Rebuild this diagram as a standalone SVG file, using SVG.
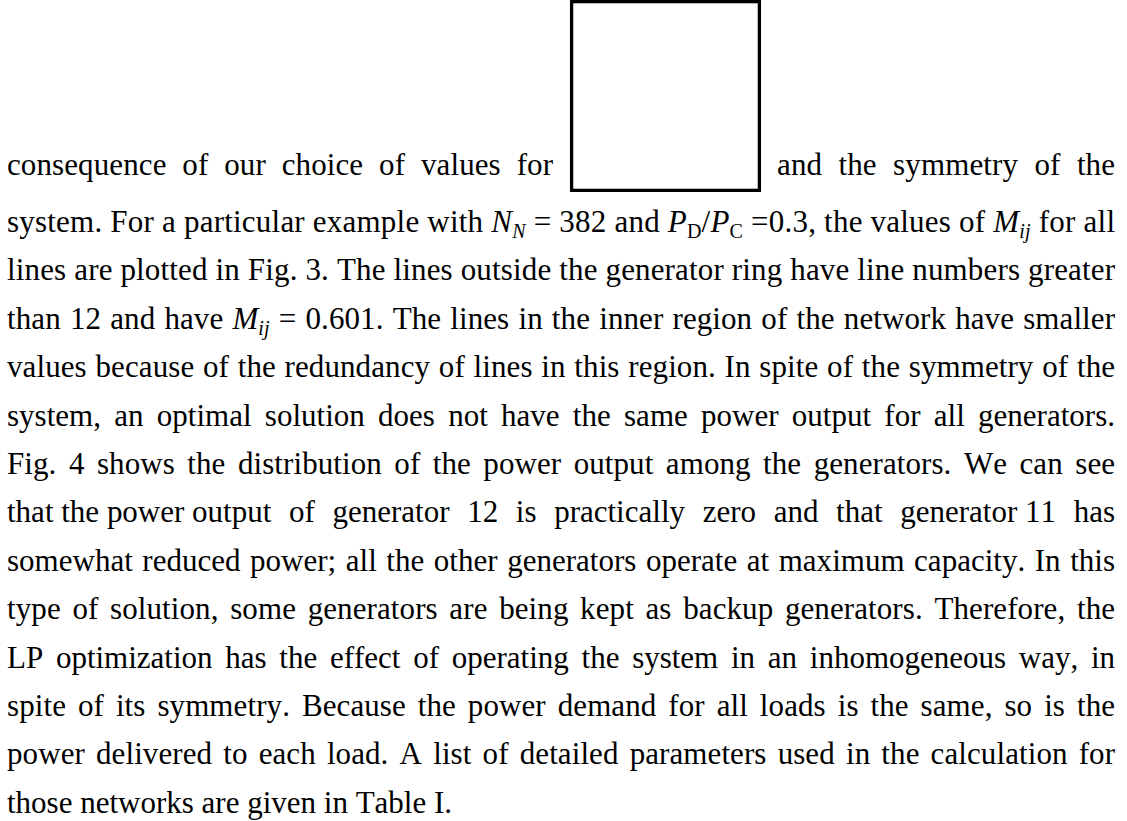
<svg xmlns="http://www.w3.org/2000/svg" width="1127" height="821" viewBox="0 0 1127 821">
  <style>
    text { font-family: "Liberation Serif", "Times New Roman", serif; font-size: 31px; fill: #000; font-kerning: none; }
    .i { font-style: italic; }
    .s { font-size: 20px; }
  </style>
  <rect width="1127" height="821" fill="#fff"/>

  <!-- empty inline frame in the first line -->
  <g id="frame">
    <rect x="571.6" y="1.65" width="187.8" height="188.7" fill="#fff" stroke="#000" stroke-width="3.3"/>
  </g>

  <!-- justified paragraph, one text element per line -->
  <g id="paragraph" xml:space="preserve">
    <text x="7" y="175" textLength="546" lengthAdjust="spacing" word-spacing="8">consequence of our choice of values for</text>
    <text x="777" y="175" textLength="338" lengthAdjust="spacing" word-spacing="8.5">and the symmetry of the</text>
    <text x="7" y="232" textLength="1108" lengthAdjust="spacing">system.  For a particular example with <tspan class="i">N</tspan><tspan class="i s" dy="6">N</tspan><tspan dy="-6"> = 382 and </tspan><tspan class="i">P</tspan><tspan class="s" dy="6">D</tspan><tspan dy="-6">/</tspan><tspan class="i">P</tspan><tspan class="s" dy="6">C</tspan><tspan dy="-6"> =0.3, the values of </tspan><tspan class="i">M</tspan><tspan class="i s" dy="6">ij</tspan><tspan dy="-6"> for all</tspan></text>
    <text x="7" y="280.4" textLength="1108" lengthAdjust="spacing">lines are plotted in Fig. 3.  The lines outside the generator ring have line numbers greater</text>
    <text x="7" y="328.8" textLength="1108" lengthAdjust="spacing" word-spacing="1.3">than 12 and have <tspan class="i">M</tspan><tspan class="i s" dy="6">ij</tspan><tspan dy="-6"> = 0.601.  The lines in the inner region of the network have smaller</tspan></text>
    <text x="7" y="377.2" textLength="1108" lengthAdjust="spacing" word-spacing="0.9">values because of the redundancy of lines in this region.  In spite of the symmetry of the</text>
    <text x="7" y="425.6" textLength="1108" lengthAdjust="spacing" word-spacing="5.5">system, an optimal solution does not have the same power output for all generators.</text>
    <text x="7" y="474" textLength="1108" lengthAdjust="spacing" word-spacing="4.6">Fig. 4 shows the distribution of the power output among the generators.  We can see</text>
    <text x="7" y="522.4" textLength="1108" lengthAdjust="spacing">that the power output<tspan word-spacing="9.9"> of generator 12 is practically zero and that generator</tspan> 11<tspan word-spacing="9.9"> has</tspan></text>
    <text x="7" y="570.8" textLength="1108" lengthAdjust="spacing" word-spacing="1.8">somewhat reduced power; all the other generators operate at maximum capacity. In this</text>
    <text x="7" y="619.2" textLength="1108" lengthAdjust="spacing" word-spacing="3.8">type of solution, some generators are being kept as backup generators.  Therefore, the</text>
    <text x="7" y="667.6" textLength="1108" lengthAdjust="spacing" word-spacing="5">LP optimization has the effect of operating the system in an inhomogeneous way, in</text>
    <text x="7" y="716" textLength="1108" lengthAdjust="spacing" word-spacing="4.1">spite of its symmetry.  Because the power demand for all loads is the same, so is the</text>
    <text x="7" y="764.4" textLength="1108" lengthAdjust="spacing" word-spacing="3.3">power delivered to each load.  A list of detailed parameters used in the calculation for</text>
    <text x="7" y="812.8">those networks are given in Table I.</text>
  </g>
</svg>
